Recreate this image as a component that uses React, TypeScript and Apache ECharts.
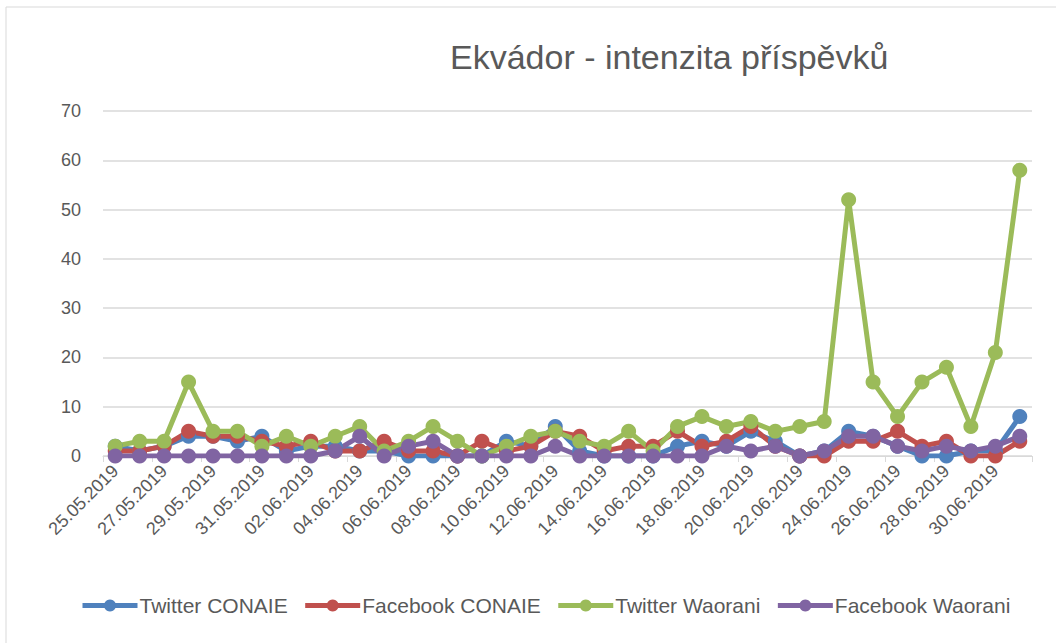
import React, { useEffect, useRef } from "react";
import * as echarts from "echarts";

const dates = [
  "25.05.2019","26.05.2019","27.05.2019","28.05.2019","29.05.2019","30.05.2019","31.05.2019",
  "01.06.2019","02.06.2019","03.06.2019","04.06.2019","05.06.2019","06.06.2019","07.06.2019",
  "08.06.2019","09.06.2019","10.06.2019","11.06.2019","12.06.2019","13.06.2019","14.06.2019",
  "15.06.2019","16.06.2019","17.06.2019","18.06.2019","19.06.2019","20.06.2019","21.06.2019",
  "22.06.2019","23.06.2019","24.06.2019","25.06.2019","26.06.2019","27.06.2019","28.06.2019",
  "29.06.2019","30.06.2019","01.07.2019",
];

const twitterConaie = [2,1,2,4,4,3,4,1,2,2,1,1,0,0,0,0,3,2,6,1,0,0,0,2,3,2,5,3,0,1,5,4,2,0,0,1,1,8];
const facebookConaie = [1,1,2,5,4,4,3,2,3,1,1,3,1,1,0,3,1,2,5,4,1,2,2,5,2,3,6,2,0,0,3,3,5,2,3,0,0,3];
const twitterWaorani = [2,3,3,15,5,5,2,4,2,4,6,1,3,6,3,0,2,4,5,3,2,5,1,6,8,6,7,5,6,7,52,15,8,15,18,6,21,58];
const facebookWaorani = [0,0,0,0,0,0,0,0,0,1,4,0,2,3,0,0,0,0,2,0,0,0,0,0,0,2,1,2,0,1,4,4,2,1,2,1,2,4];

const seriesNames = ["Twitter CONAIE", "Facebook CONAIE", "Twitter Waorani", "Facebook Waorani"];
const seriesData = [twitterConaie, facebookConaie, twitterWaorani, facebookWaorani];
const colors = ["#4f81bd", "#c0504d", "#9bbb59", "#8064a2"];

const FONT = "'Liberation Sans', Arial, sans-serif";

export default function App() {
  const ref = useRef<HTMLDivElement>(null);
  useEffect(() => {
    document.body.style.margin = "0";
    const chart = echarts.init(ref.current!, null, { renderer: "svg" });
    chart.setOption({
      animation: false,
      backgroundColor: "#ffffff",
      color: colors,
      title: {
        text: "Ekvádor - intenzita příspěvků",
        left: 445,
        top: 35,
        textStyle: { fontFamily: FONT, fontSize: 34, fontWeight: "normal", color: "#595959" },
      },
      graphic: [
        {
          type: "rect",
          shape: { x: 6, y: 7, width: 1060, height: 660 },
          style: { fill: "none", stroke: "#d9d9d9", lineWidth: 1 },
          silent: true,
        },
      ],
      legend: {
        bottom: 22,
        left: 75,
        itemWidth: 55,
        itemHeight: 15,
        itemGap: 15,
        lineStyle: { width: 5 },
        textStyle: { fontFamily: FONT, fontSize: 21, color: "#595959", padding: [0, 0, 0, -3] },
        data: seriesNames,
      },
      grid: { left: 103, right: 24, top: 111, bottom: 187, containLabel: false },
      xAxis: {
        type: "category",
        data: dates,
        boundaryGap: true,
        axisLine: { lineStyle: { color: "#d9d9d9", width: 1 } },
        axisTick: { show: true, interval: 1, length: 6, lineStyle: { color: "#d9d9d9" } },
        axisLabel: {
          interval: 1,
          rotate: 45,
          fontFamily: FONT,
          fontSize: 18,
          color: "#595959",
          margin: 12,
        },
      },
      yAxis: {
        type: "value",
        min: 0,
        max: 70,
        interval: 10,
        axisLine: { show: false },
        axisTick: { show: false },
        axisLabel: { fontFamily: FONT, fontSize: 18, color: "#595959", margin: 22 },
        splitLine: { lineStyle: { color: "#d9d9d9", width: 1.5 } },
      },
      series: seriesNames.map((name, i) => ({
        name,
        type: "line",
        data: seriesData[i],
        symbol: "circle",
        symbolSize: 15,
        showAllSymbol: true,
        lineStyle: { width: 5, color: colors[i] },
        itemStyle: { color: colors[i] },
      })),
    });
    return () => chart.dispose();
  }, []);
  return <div ref={ref} style={{ width: 1056, height: 643 }} />;
}
